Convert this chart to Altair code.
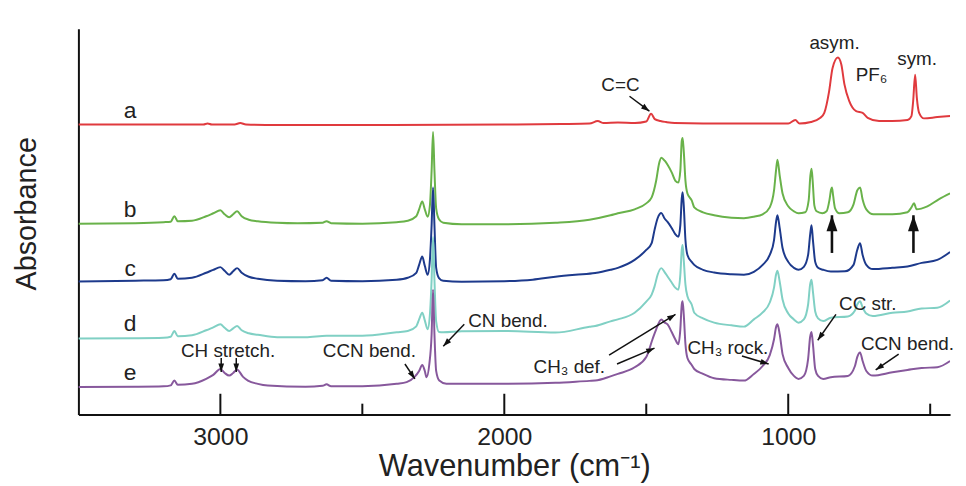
import math
import altair as alt
import pandas as pd

# ---------------- spectra (wavenumber cm-1, absorbance a.u., offset traces) ----------------
WN_A = [3500, 3300, 3060, 3045, 3030, 2950, 2930, 2910, 2800, 2400, 2000, 1800, 1700, 1671, 1650,
        1600, 1540, 1500, 1483, 1470, 1450, 1430, 1400, 1300, 1100, 1000, 975, 960, 920, 888,
        873, 856, 844, 825, 813, 802, 785, 761, 738, 720, 680, 633, 580, 566, 560,
        553, 547, 539, 522, 475, 430]
AB_A = [2.925, 2.925, 2.925, 2.935, 2.925, 2.925, 2.94, 2.925, 2.92, 2.92, 2.925, 2.93, 2.935, 2.96, 2.94,
        2.945, 2.94, 2.955, 3.033, 2.98, 2.96, 2.95, 2.94, 2.935, 2.935, 2.935, 2.97, 2.935, 2.95, 2.99,
        3.043, 3.26, 3.493, 3.60, 3.53, 3.33, 3.16, 3.06, 3.043, 2.993, 2.96, 2.96, 2.97, 3.01, 3.16,
        3.427, 3.193, 3.043, 2.987, 3.00, 3.01]

WN_B = [3500, 3300, 3200, 3175, 3162, 3150, 3100, 3050, 3025, 3000, 2985, 2969, 2955, 2941, 2925,
        2900, 2868, 2800, 2728, 2640, 2626, 2610, 2500, 2379, 2340, 2310, 2300, 2289, 2280, 2270,
        2262, 2256, 2251, 2246, 2240, 2230, 2215, 2150, 2000, 1820, 1700, 1626, 1600, 1541, 1500,
        1481, 1465, 1455, 1447, 1435, 1425, 1410, 1398, 1387, 1380, 1375, 1372, 1368, 1362, 1355,
        1340, 1331, 1300, 1261, 1200, 1156, 1121, 1090, 1065, 1050, 1043, 1038, 1030, 1020, 1000,
        980, 964, 940, 928, 922, 918, 914, 908, 900, 880, 865, 855, 849, 846, 842,
        835, 820, 790, 770, 757, 747, 738, 725, 700, 633, 580, 566, 557, 548, 510,
        470, 430]
AB_B = [1.925, 1.93, 1.94, 1.945, 2.00, 1.95, 1.955, 2.00, 2.03, 2.06, 2.02, 1.99, 2.02, 2.05, 2.00,
        1.965, 1.95, 1.935, 1.93, 1.935, 1.95, 1.93, 1.925, 1.94, 1.955, 2.00, 2.07, 2.15, 2.07, 1.995,
        2.11, 2.46, 2.85, 2.46, 2.08, 1.97, 1.935, 1.92, 1.92, 1.935, 1.965, 2.01, 2.03, 2.07, 2.13,
        2.19, 2.36, 2.53, 2.59, 2.56, 2.52, 2.44, 2.36, 2.34, 2.46, 2.76, 2.79, 2.66, 2.36, 2.23,
        2.16, 2.09, 2.04, 2.01, 1.985, 1.98, 1.995, 2.02, 2.09, 2.26, 2.46, 2.57, 2.41, 2.23, 2.10,
        2.05, 2.03, 2.04, 2.16, 2.41, 2.48, 2.36, 2.11, 2.05, 2.03, 2.05, 2.16, 2.27, 2.29, 2.21,
        2.08, 2.03, 2.04, 2.12, 2.26, 2.29, 2.17, 2.07, 2.02, 2.02, 2.04, 2.09, 2.13, 2.07, 2.10,
        2.17, 2.23]

WN_C = [3500, 3300, 3200, 3175, 3162, 3150, 3100, 3050, 3025, 3000, 2985, 2969, 2955, 2941, 2925,
        2900, 2868, 2800, 2700, 2640, 2626, 2610, 2500, 2379, 2340, 2310, 2300, 2289, 2280, 2270,
        2262, 2256, 2251, 2246, 2240, 2230, 2215, 2150, 2000, 1900, 1820, 1750, 1680, 1626, 1600,
        1541, 1500, 1481, 1471, 1460, 1447, 1436, 1425, 1410, 1398, 1387, 1380, 1375, 1372, 1368,
        1362, 1355, 1340, 1331, 1300, 1261, 1200, 1156, 1121, 1090, 1065, 1050, 1043, 1038, 1030,
        1020, 1000, 980, 964, 945, 930, 923, 918, 913, 905, 895, 877, 850, 800, 770,
        757, 747, 738, 725, 702, 633, 580, 530, 475, 430]
AB_C = [1.343, 1.35, 1.355, 1.365, 1.42, 1.37, 1.38, 1.43, 1.46, 1.487, 1.45, 1.41, 1.445, 1.477, 1.43,
        1.39, 1.37, 1.35, 1.345, 1.355, 1.38, 1.35, 1.345, 1.36, 1.38, 1.43, 1.51, 1.593, 1.50, 1.41,
        1.56, 1.91, 2.29, 1.91, 1.48, 1.377, 1.35, 1.34, 1.345, 1.36, 1.39, 1.41, 1.427, 1.46, 1.48,
        1.56, 1.66, 1.73, 1.86, 1.98, 2.033, 1.98, 1.943, 1.88, 1.82, 1.793, 1.91, 2.18, 2.243, 2.11,
        1.76, 1.61, 1.54, 1.51, 1.46, 1.433, 1.415, 1.41, 1.44, 1.51, 1.61, 1.76, 1.94, 2.01, 1.88,
        1.68, 1.54, 1.48, 1.46, 1.49, 1.61, 1.81, 1.91, 1.76, 1.54, 1.48, 1.46, 1.443, 1.445, 1.51,
        1.66, 1.727, 1.61, 1.51, 1.467, 1.48, 1.493, 1.53, 1.56, 1.64]

WN_D = [3500, 3300, 3200, 3175, 3162, 3150, 3100, 3050, 3025, 3000, 2985, 2969, 2955, 2941, 2925,
        2900, 2868, 2800, 2700, 2626, 2500, 2379, 2340, 2310, 2300, 2289, 2280, 2270, 2262, 2256,
        2251, 2246, 2240, 2230, 2215, 2150, 2000, 1820, 1700, 1680, 1626, 1600, 1541, 1500, 1481,
        1471, 1460, 1447, 1436, 1425, 1410, 1398, 1387, 1380, 1375, 1372, 1368, 1362, 1355, 1340,
        1331, 1300, 1261, 1200, 1156, 1121, 1090, 1065, 1050, 1043, 1038, 1030, 1020, 1000, 980,
        964, 945, 930, 923, 918, 913, 905, 895, 877, 850, 790, 765, 757, 747, 738,
        725, 702, 633, 580, 530, 475, 430]
AB_D = [0.767, 0.77, 0.775, 0.785, 0.843, 0.79, 0.80, 0.85, 0.88, 0.91, 0.875, 0.843, 0.87, 0.893, 0.85,
        0.82, 0.805, 0.78, 0.78, 0.795, 0.795, 0.83, 0.843, 0.89, 0.96, 1.027, 0.95, 0.86, 1.01, 1.36,
        1.79, 1.36, 0.94, 0.833, 0.83, 0.84, 0.843, 0.827, 0.885, 0.893, 0.94, 0.96, 1.027, 1.14, 1.21,
        1.29, 1.41, 1.477, 1.44, 1.393, 1.33, 1.28, 1.26, 1.41, 1.66, 1.71, 1.56, 1.31, 1.193, 1.11,
        1.027, 0.97, 0.927, 0.90, 0.887, 0.96, 1.03, 1.13, 1.28, 1.41, 1.45, 1.34, 1.16, 1.02, 0.96,
        0.927, 0.96, 1.11, 1.31, 1.36, 1.24, 1.04, 0.97, 0.943, 0.977, 0.99, 1.05, 1.11, 1.143, 1.08,
        1.02, 0.993, 1.027, 1.04, 1.07, 1.077, 1.15]

WN_E = [3500, 3300, 3200, 3175, 3162, 3150, 3100, 3050, 3025, 3000, 2985, 2969, 2955, 2941, 2920,
        2903, 2868, 2833, 2700, 2640, 2626, 2610, 2500, 2379, 2344, 2316, 2300, 2289, 2280, 2274,
        2264, 2256, 2251, 2246, 2240, 2229, 2204, 2000, 1820, 1700, 1680, 1626, 1600, 1541, 1500,
        1478, 1465, 1447, 1436, 1425, 1410, 1398, 1387, 1380, 1375, 1372, 1368, 1362, 1355, 1340,
        1331, 1300, 1261, 1200, 1156, 1121, 1090, 1065, 1050, 1043, 1038, 1030, 1020, 1000, 980,
        964, 945, 930, 923, 918, 913, 905, 895, 877, 850, 790, 765, 757, 747, 738,
        725, 702, 633, 580, 530, 475, 430]
AB_E = [0.277, 0.28, 0.285, 0.295, 0.343, 0.30, 0.31, 0.36, 0.40, 0.46, 0.42, 0.393, 0.42, 0.453, 0.38,
        0.343, 0.31, 0.293, 0.28, 0.29, 0.305, 0.285, 0.285, 0.31, 0.327, 0.38, 0.44, 0.50, 0.44, 0.377,
        0.51, 0.81, 1.26, 0.81, 0.44, 0.343, 0.31, 0.31, 0.32, 0.34, 0.343, 0.385, 0.41, 0.477, 0.58,
        0.76, 0.86, 0.96, 0.93, 0.91, 0.83, 0.76, 0.71, 0.86, 1.11, 1.143, 1.01, 0.71, 0.57, 0.50,
        0.46, 0.41, 0.367, 0.35, 0.343, 0.41, 0.49, 0.60, 0.76, 0.88, 0.91, 0.81, 0.61, 0.47, 0.39,
        0.36, 0.39, 0.56, 0.78, 0.833, 0.71, 0.46, 0.39, 0.36, 0.377, 0.39, 0.49, 0.58, 0.627, 0.54,
        0.44, 0.393, 0.427, 0.45, 0.47, 0.477, 0.54]

SERIES = ["a", "b", "c", "d", "e"]
COLORS = ["#e03a3e", "#69b24a", "#1d3a8c", "#80d0c4", "#87589c"]

# trace letter labels
LETTER_WN = [3318, 3318, 3318, 3318, 3318]
LETTER_AB = [2.99, 1.99, 1.40, 0.84, 0.35]

# axis ticks (drawn inward)
MAJOR_TICKS = [3000, 2000, 1000]
MINOR_TICKS = [2500, 1500, 500]

# annotations
CENTER_TEXT = ["C=C", "asym.", "CH stretch.", "CCN bend."]
CENTER_WN = [1591, 837, 2973, 2475]
CENTER_AB = [3.26, 3.69, 0.58, 0.58]

LEFT_TEXT = ["PF\u2086", "sym.", "CN bend.", "CH\u2083 def.", "CH\u2083 rock.", "CC str.", "CCN bend."]
LEFT_WN = [762, 616, 2127, 1897, 1355, 821, 744]
LEFT_AB = [3.36, 3.53, 0.88, 0.42, 0.61, 1.05, 0.65]

# arrows: tail -> tip
ARROW_WN1 = [1559, 2997, 2944, 2350, 2141, 1631, 1603, 1163, 832, 611, 846, 559]
ARROW_AB1 = [3.21, 0.57, 0.57, 0.51, 0.91, 0.60, 0.51, 0.59, 1.01, 0.61, 1.63, 1.63]
ARROW_WN2 = [1489, 2997, 2944, 2315, 2215, 1397, 1471, 1069, 896, 692, 846, 559]
ARROW_AB2 = [3.06, 0.43, 0.43, 0.36, 0.69, 1.01, 0.67, 0.51, 0.75, 0.45, 2.01, 2.01]
ARROW_BIG = [0, 0, 0, 0, 0, 0, 0, 0, 0, 0, 1, 1]

X_DOMAIN = [3500, 430]
Y_DOMAIN = [0, 3.89]
W, H = 879, 389
FONT = "Liberation Sans"

# ---------------- build tables ----------------
rows = []
for s, wn, ab in zip(SERIES, [WN_A, WN_B, WN_C, WN_D, WN_E], [AB_A, AB_B, AB_C, AB_D, AB_E]):
    assert len(wn) == len(ab), s
    rows += [{"series": s, "wn": w, "ab": v} for w, v in zip(wn, ab)]
spec_df = pd.DataFrame(rows)

letters_df = pd.DataFrame({"label": SERIES, "wn": LETTER_WN, "ab": LETTER_AB})
ticks_df = pd.DataFrame({"wn": MAJOR_TICKS + MINOR_TICKS,
                         "ab": [0.0] * 6,
                         "ab2": [0.21] * 3 + [0.11] * 3})
ctext_df = pd.DataFrame({"label": CENTER_TEXT, "wn": CENTER_WN, "ab": CENTER_AB})
ltext_df = pd.DataFrame({"label": LEFT_TEXT, "wn": LEFT_WN, "ab": LEFT_AB})

px_x = W / (X_DOMAIN[0] - X_DOMAIN[1])
px_y = H / (Y_DOMAIN[1] - Y_DOMAIN[0])
angles = []
for w1, a1, w2, a2 in zip(ARROW_WN1, ARROW_AB1, ARROW_WN2, ARROW_AB2):
    dx = -(w2 - w1) * px_x
    dy = -(a2 - a1) * px_y
    angles.append(math.degrees(math.atan2(dx, -dy)) % 360)
arrows_df = pd.DataFrame({"wn": ARROW_WN1, "ab": ARROW_AB1, "wn2": ARROW_WN2, "ab2": ARROW_AB2,
                          "big": ARROW_BIG, "angle": angles})

xs = alt.Scale(domain=X_DOMAIN, zero=False, nice=False)
ys = alt.Scale(domain=Y_DOMAIN, zero=False, nice=False)

x_axis = alt.Axis(values=MAJOR_TICKS, ticks=False, grid=False, format="d",
                  title="Wavenumber (cm\u207b\u00b9)", labelFontSize=25, labelPadding=10,
                  titleFontSize=31, titlePadding=2, titleFontWeight="normal",
                  domainColor="#111", domainWidth=2, labelColor="#222", titleColor="#222",
                  labelFont=FONT, titleFont=FONT)
y_axis = alt.Axis(labels=False, ticks=False, grid=False, title="Absorbance",
                  titleFontSize=29, titlePadding=37, titleY=186, titleFontWeight="normal",
                  domainColor="#111", domainWidth=2, titleColor="#222", titleFont=FONT)

X = alt.X("wn:Q", scale=xs, axis=x_axis)
Y = alt.Y("ab:Q", scale=ys, axis=y_axis)
X2TIP = alt.X("wn2:Q", scale=xs, axis=x_axis)
Y2TIP = alt.Y("ab2:Q", scale=ys, axis=y_axis)

lines = alt.Chart(spec_df).mark_line(strokeWidth=2, clip=True, interpolate="monotone").encode(
    x=X, y=Y,
    color=alt.Color("series:N", scale=alt.Scale(domain=SERIES, range=COLORS), legend=None),
    order=alt.Order("wn:Q"),
)

ticks = alt.Chart(ticks_df).mark_rule(color="#111", strokeWidth=2).encode(
    x=X, y=Y, y2="ab2:Q",
)

letters = alt.Chart(letters_df).mark_text(font=FONT, fontSize=23, align="center",
                                         baseline="alphabetic", color="#222").encode(
    x=X, y=Y, text="label:N")

ctext = alt.Chart(ctext_df).mark_text(font=FONT, fontSize=19, align="center",
                                     baseline="alphabetic", color="#222").encode(
    x=X, y=Y, text="label:N")

ltext = alt.Chart(ltext_df).mark_text(font=FONT, fontSize=19, align="left",
                                     baseline="alphabetic", color="#222").encode(
    x=X, y=Y, text="label:N")

shafts = alt.Chart(arrows_df).mark_rule(color="#111").encode(
    x=X, x2="wn2:Q", y=Y, y2="ab2:Q",
    strokeWidth=alt.StrokeWidth("big:N", scale=alt.Scale(domain=[0, 1], range=[1.5, 2.6]), legend=None),
)

heads = alt.Chart(arrows_df).mark_point(shape="M0,0L0.55,1.6L-0.55,1.6Z", filled=True,
                                       color="#111", opacity=1, strokeWidth=0).encode(
    x=X2TIP, y=Y2TIP,
    angle=alt.Angle("angle:Q", scale=None),
    size=alt.Size("big:N", scale=alt.Scale(domain=[0, 1], range=[110, 400]), legend=None),
)

chart = alt.layer(lines, ticks, letters, ctext, ltext, shafts, heads).properties(
    width=W, height=H,
    padding={"left": 71, "top": 19, "right": 8, "bottom": 69},
    autosize=alt.AutoSizeParams(type="none"),
    background="white",
).configure_view(stroke=None).configure_axis(labelFont=FONT, titleFont=FONT)

chart.save("out.html", embed_options={"renderer": "svg", "actions": False})
